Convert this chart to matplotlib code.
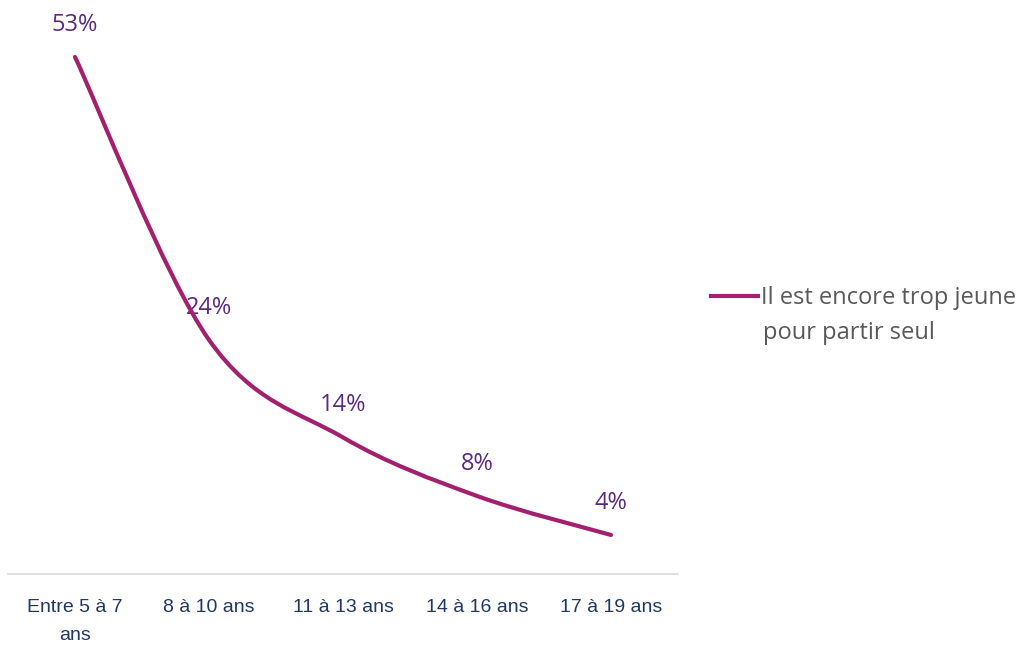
import matplotlib
matplotlib.use("Agg")
import matplotlib.pyplot as plt
from matplotlib.path import Path
from matplotlib.patches import PathPatch
from matplotlib.transforms import IdentityTransform
from matplotlib.lines import Line2D

# données
categories = ["Entre 5 à 7\nans", "8 à 10 ans", "11 à 13 ans", "14 à 16 ans", "17 à 19 ans"]
values = [53, 24, 14, 8, 4]
series_name = "Il est encore trop jeune"
series_name_2 = "pour partir seul"

line_color = "#A3206F"
label_color = "#5B2A7E"
tick_color = "#1F3864"
txt_font = ["Open Sans", "DejaVu Sans"]

fig = plt.figure(figsize=(10.32, 6.47), dpi=100)
ax = fig.add_axes([8 / 1032, 73 / 647, 670 / 1032, 1 - 73 / 647])
ax.set_xlim(-0.5, len(categories) - 0.5)
ax.set_ylim(0, 58.84)

# courbe lissée (style Excel) : Bézier cubiques en coordonnées écran
xs = list(range(len(values)))
pts = ax.transData.transform(list(zip(xs, values)))
n = len(pts)
verts = [tuple(pts[0])]
codes = [Path.MOVETO]
for i in range(n - 1):
    p0 = pts[i - 1] if i > 0 else pts[i]
    p1 = pts[i]
    p2 = pts[i + 1]
    p3 = pts[i + 2] if i + 2 < n else pts[i + 1]
    c1 = p1 + (p2 - p0) / 6
    c2 = p2 - (p3 - p1) / 6
    verts += [tuple(c1), tuple(c2), tuple(p2)]
    codes += [Path.CURVE4] * 3
curve = PathPatch(Path(verts, codes), transform=IdentityTransform(),
                  fill=False, edgecolor=line_color, lw=3, capstyle="round")
fig.add_artist(curve)

# étiquettes de données
for x, v in zip(xs, values):
    ax.annotate(f"{v}%", (x, v), xytext=(0, 32), textcoords="offset pixels",
                ha="center", va="center", color=label_color, fontsize=17,
                family=txt_font, annotation_clip=False)

# axes
for s in ["top", "right", "left"]:
    ax.spines[s].set_visible(False)
ax.spines["bottom"].set_color("#D9D9D9")
ax.spines["bottom"].set_linewidth(1.2)
ax.set_yticks([])
ax.set_xticks(xs)
ax.set_xticklabels(categories, color=tick_color, fontsize=14,
                   family=["Liberation Sans Narrow", "Liberation Sans"],
                   linespacing=1.85)
ax.tick_params(axis="x", length=0, pad=18)

# légende
handle = Line2D([], [], color=line_color, lw=3)
fig.legend([handle], [series_name], loc="center left",
           bbox_to_anchor=(711 / 1032, 1 - 298 / 647), frameon=False,
           handlelength=2.0, handletextpad=0.1, borderpad=0,
           borderaxespad=0,
           prop={"family": txt_font, "size": 17},
           labelcolor="#595959")
fig.text(763 / 1032, 1 - 333 / 647, series_name_2, color="#595959",
         fontsize=17, family=txt_font, va="center")

fig.savefig("out.png", dpi=100)
